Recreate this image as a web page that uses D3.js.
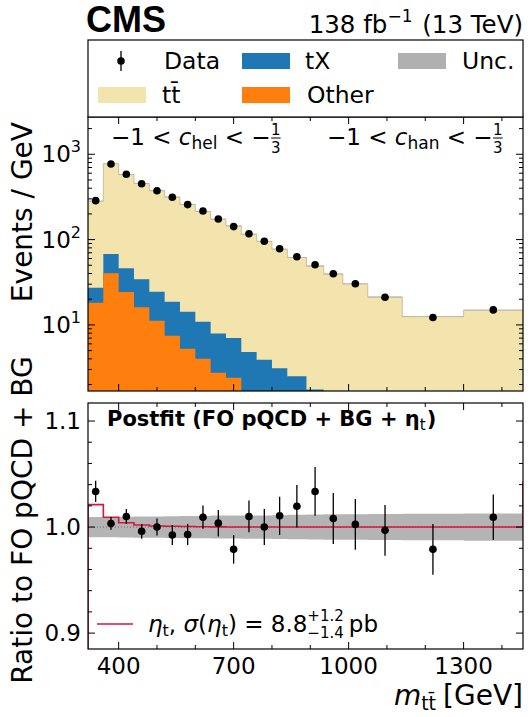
<!DOCTYPE html>
<html><head><meta charset="utf-8">
<script src="https://cdn.jsdelivr.net/npm/d3@7"></script>
<style>
body{margin:0;background:#fff}
svg{display:block}
text{font-family:"DejaVu Sans",sans-serif;white-space:pre}
</style>
</head><body>
<svg id="c" width="532" height="717"></svg>
<script>
// ---------------- data ----------------
const binEdges = [320,360,400,440,480,520,560,600,640,680,720,760,800,840,890,935,985,1050,1140,1300,1455];
const dataVals  = [286,770,584,452,374,313,257,216,174,142,117,95.5,78,63,50.8,39.8,30.4,21.1,12.2,15.0];
const ttVals    = [255.3,706.7,534.4,420.4,349.9,296.9,244.6,203.2,165.4,138.0,111.0,91.6,74.1,59.3,47.3,38.1,29.2,20.4,12.1,14.55];
const tXVals    = [9.1,27.5,21.8,18.2,13.3,11.2,9.0,6.9,5.2,4.6,3.5,2.9,2.3,1.9,1.3,1.0,0.8,0.6,0.3,0.25];
const otherVals = [18.2,40.3,24.3,16.1,11.2,7.47,5.26,4.02,2.75,2.41,1.3,1.0,0.8,0.6,0.45,0.4,0.3,0.2,0.1,0.1];
const ratioVals = [1.0336,1.0034,1.010,0.996,1.000,0.9925,0.993,1.0093,1.0037,0.979,1.010,1.000,1.0106,1.0196,1.0336,1.0081,1.0025,0.9969,0.979,1.0093];
const ratioErr  = [0.010,0.006,0.007,0.007,0.008,0.0095,0.010,0.011,0.0125,0.0135,0.015,0.017,0.018,0.020,0.023,0.024,0.024,0.024,0.024,0.0215];
const etaRatio  = [1.0212,1.0093,1.004,1.002,1.001,1.0008,1.0005,1.0003,1.0002,1.0001,1.0,1.0,1.0,1.0,1.0,1.0,1.0,1.0,1.0,1.0];
const uncRel    = [0.0095,0.0095,0.0098,0.0100,0.0100,0.0102,0.0105,0.0105,0.0108,0.0108,0.0110,0.0110,0.0112,0.0115,0.0118,0.0120,0.0120,0.0122,0.0125,0.0128];
const etaNextSlice = 1.043;
const xTicksMajor = [400,700,1000,1300];
const xTicksMinor = [500,600,800,900,1100,1200,1400];
const yTopMajor = [10,100,1000];
const yTopLabels = ["1","2","3"];
const yBotMajor = [0.9,1.0,1.1];
const yBotLabels = ["0.9","1.0","1.1"];

// ---------------- colors ----------------
const C_TT = "#f2e4ac", C_TX = "#1f77b4", C_OTH = "#ff7f0e", C_UNC = "#b0b0b0", C_RED = "#dc143c";

// ---------------- layout ----------------
const L = 88, R = 523;
const T1 = 117, B1 = 391, T2 = 403, B2 = 649;
const svg = d3.select("#c");

const x = d3.scaleLinear().domain([320,1455]).range([L,R]);
const yTop = d3.scaleLog().domain([1.68,2735]).range([B1,T1]);
const yBot = d3.scaleLinear().domain([0.885,1.117]).range([B2,T2]);

const nb = dataVals.length;
const bins = d3.range(nb).map(i => ({
  x0: binEdges[i], x1: binEdges[i+1], c: (binEdges[i]+binEdges[i+1])/2,
  oth: otherVals[i], tx: otherVals[i]+tXVals[i], tot: otherVals[i]+tXVals[i]+ttVals[i],
  d: dataVals[i], r: ratioVals[i], re: ratioErr[i], eta: etaRatio[i], u: uncRel[i]
}));

const defs = svg.append("defs");
defs.append("clipPath").attr("id","cp1").append("rect").attr("x",L).attr("y",T1).attr("width",R-L).attr("height",B1-T1);
defs.append("clipPath").attr("id","cp2").append("rect").attr("x",L).attr("y",T2).attr("width",R-L).attr("height",B2-T2);

// ---------------- top panel ----------------
const g1 = svg.append("g").attr("clip-path","url(#cp1)");
function stepArea(key0) {
  return d3.area()
    .x(p => x(p.x))
    .y0(p => key0 ? yTop(p.v0) : B1 + 5)
    .y1(p => yTop(p.v1));
}
function stepPts(f0, f1) {
  const pts = [];
  bins.forEach(b => {
    pts.push({x:b.x0, v0:f0(b), v1:f1(b)});
    pts.push({x:b.x1, v0:f0(b), v1:f1(b)});
  });
  return pts;
}
const clampLow = v => Math.max(v, 0.5);
g1.append("path").attr("d", stepArea(false)(stepPts(b=>1, b=>b.tot))).attr("fill",C_TT);
g1.append("path").attr("d", stepArea(false)(stepPts(b=>1, b=>clampLow(b.tx)))).attr("fill",C_TX);
g1.append("path").attr("d", stepArea(false)(stepPts(b=>1, b=>clampLow(b.oth)))).attr("fill",C_OTH);
g1.append("path").attr("d", stepArea(true)(stepPts(b=>b.tot*(1-b.u), b=>b.tot*(1+b.u)))).attr("fill",C_UNC).attr("opacity",0.9);
g1.append("path").attr("d", d3.line().x(p=>x(p.x)).y(p=>yTop(p.v1))(stepPts(b=>0,b=>b.tot))).attr("fill","none").attr("stroke","#bdb49a").attr("stroke-width",0.8);

const gd = svg.append("g");
bins.forEach(b => {
  const rel = b.re / b.r;
  gd.append("line").attr("x1",x(b.c)).attr("x2",x(b.c))
    .attr("y1",yTop(b.d*(1-rel))).attr("y2",yTop(b.d*(1+rel))).attr("stroke","#000").attr("stroke-width",1.3);
  gd.append("circle").attr("cx",x(b.c)).attr("cy",yTop(b.d)).attr("r",3.8).attr("fill","#000");
});

// ---------------- bottom panel ----------------
const g2 = svg.append("g").attr("clip-path","url(#cp2)");
g2.append("path").attr("d", d3.area().x(p=>x(p.x)).y0(p=>yBot(1-p.v0)).y1(p=>yBot(1+p.v1))(stepPts(b=>b.u,b=>b.u))).attr("fill",C_UNC).attr("opacity",0.95);
g2.append("line").attr("x1",L).attr("x2",R).attr("y1",yBot(1)).attr("y2",yBot(1)).attr("stroke","#555").attr("stroke-width",0.8).attr("stroke-dasharray","1,2");
const etaPts = [[x(binEdges[0]), B2+10]];
bins.forEach(b => { etaPts.push([x(b.x0), yBot(b.eta)]); etaPts.push([x(b.x1), yBot(b.eta)]); });
etaPts.push([x(binEdges[nb]), yBot(etaNextSlice)]);
g2.append("path").attr("d", d3.line()(etaPts)).attr("fill","none").attr("stroke",C_RED).attr("stroke-width",1.6);
bins.forEach(b => {
  g2.append("line").attr("x1",x(b.c)).attr("x2",x(b.c)).attr("y1",yBot(b.r-b.re)).attr("y2",yBot(b.r+b.re)).attr("stroke","#000").attr("stroke-width",1.3);
  g2.append("circle").attr("cx",x(b.c)).attr("cy",yBot(b.r)).attr("r",3.8).attr("fill","#000");
});

// ---------------- axes / ticks ----------------
function frame(T,B) {
  svg.append("rect").attr("x",L).attr("y",T).attr("width",R-L).attr("height",B-T).attr("fill","none").attr("stroke","#000").attr("stroke-width",1.2);
}
function xticks(T,B) {
  const ga = svg.append("g");
  xTicksMajor.forEach(v => {
    ga.append("line").attr("x1",x(v)).attr("x2",x(v)).attr("y1",B).attr("y2",B-7);
    ga.append("line").attr("x1",x(v)).attr("x2",x(v)).attr("y1",T).attr("y2",T+7);
  });
  xTicksMinor.forEach(v => {
    ga.append("line").attr("x1",x(v)).attr("x2",x(v)).attr("y1",B).attr("y2",B-4);
    ga.append("line").attr("x1",x(v)).attr("x2",x(v)).attr("y1",T).attr("y2",T+4);
  });
  ga.selectAll("line").attr("stroke","#000").attr("stroke-width",1);
}
function yticks(scale, major, minor) {
  const ga = svg.append("g");
  major.forEach(v => {
    ga.append("line").attr("x1",L).attr("x2",L+7).attr("y1",scale(v)).attr("y2",scale(v));
    ga.append("line").attr("x1",R).attr("x2",R-7).attr("y1",scale(v)).attr("y2",scale(v));
  });
  minor.forEach(v => {
    ga.append("line").attr("x1",L).attr("x2",L+4).attr("y1",scale(v)).attr("y2",scale(v));
    ga.append("line").attr("x1",R).attr("x2",R-4).attr("y1",scale(v)).attr("y2",scale(v));
  });
  ga.selectAll("line").attr("stroke","#000").attr("stroke-width",1);
}
const topMinor = [];
[1,10,100,1000].forEach(dcd => d3.range(2,10).forEach(k => { const v=k*dcd; if (v>1.68 && v<2735) topMinor.push(v); }));
const botMinor = d3.range(0.88,1.12,0.02).filter(v => v>0.886 && v<1.116 && yBotMajor.every(m=>Math.abs(m-v)>0.005));

frame(T1,B1); frame(T2,B2);
xticks(T1,B1); xticks(T2,B2);
yticks(yTop, yTopMajor, topMinor);
yticks(yBot, yBotMajor, botMinor);

yTopMajor.forEach((v,i) => {
  const t = svg.append("text").attr("x",81).attr("y",yTop(v)+8).attr("text-anchor","end").attr("font-size",23);
  t.append("tspan").text("10");
  t.append("tspan").attr("font-size",16).attr("dy",-10).text(yTopLabels[i]);
});
yBotMajor.forEach((v,i) => {
  svg.append("text").attr("x",81).attr("y",yBot(v)+8).attr("text-anchor","end").attr("font-size",23).text(yBotLabels[i]);
});
xTicksMajor.forEach(v => {
  svg.append("text").attr("x",x(v)).attr("y",674).attr("text-anchor","middle").attr("font-size",23).text(String(v));
});

// ---------------- math-ish text helper ----------------
function mtext(x0, y0, parts, anchor, baseSize) {
  const grp = svg.append("g");
  let cx = 0;
  parts.forEach(p => {
    if (p.frac) {
      const fs = p.size;
      const n = grp.append("text").attr("font-size",fs).attr("text-anchor","middle").text(p.frac[0]);
      const d = grp.append("text").attr("font-size",fs).attr("text-anchor","middle").text(p.frac[1]);
      const w = Math.max(n.node().getComputedTextLength(), d.node().getComputedTextLength()) + (p.pad||2);
      n.attr("x",cx+w/2).attr("y",p.ny);
      d.attr("x",cx+w/2).attr("y",p.dy);
      if (p.ly !== undefined) grp.append("line").attr("x1",cx+0.5).attr("x2",cx+w-0.5).attr("y1",p.ly).attr("y2",p.ly).attr("stroke","#000").attr("stroke-width",1);
      if (p.align === "left") { n.attr("text-anchor","start").attr("x",cx); d.attr("text-anchor","start").attr("x",cx); }
      cx += w + (p.after||0);
    } else {
      const t = grp.append("text").attr("x",cx).attr("y",p.dy||0).attr("font-size",p.size||baseSize).text(p.t);
      if (p.italic) t.attr("font-style","italic");
      if (p.bold) t.attr("font-weight","bold");
      cx += t.node().getComputedTextLength() + (p.after||0);
    }
  });
  const shift = anchor === "end" ? -cx : anchor === "middle" ? -cx/2 : 0;
  grp.attr("transform", `translate(${x0+shift},${y0})`);
  return grp;
}

svg.append("text").attr("x",86).attr("y",32).attr("font-size",36).attr("font-weight","bold").style("font-family","'Liberation Sans',Arial,sans-serif").text("CMS");
mtext(523, 33, [
  {t:"138 fb"}, {t:"\u22121", size:17, dy:-11, after:2}, {t:" (13 TeV)"}
], "end", 24.5);

svg.append("rect").attr("x",L).attr("y",40).attr("width",R-L).attr("height",T1-40).attr("fill","#fff").attr("stroke","#000").attr("stroke-width",1.2);
svg.append("line").attr("x1",121).attr("x2",121).attr("y1",51).attr("y2",71).attr("stroke","#000").attr("stroke-width",1.3);
svg.append("circle").attr("cx",121).attr("cy",61).attr("r",3.8).attr("fill","#000");
svg.append("text").attr("x",164).attr("y",69).attr("font-size",23.5).text("Data");
svg.append("rect").attr("x",242).attr("y",53).attr("width",48).attr("height",16).attr("fill",C_TX);
svg.append("text").attr("x",305).attr("y",69).attr("font-size",23.5).text("tX");
svg.append("rect").attr("x",398).attr("y",53).attr("width",48).attr("height",16).attr("fill",C_UNC);
svg.append("text").attr("x",462).attr("y",69).attr("font-size",23.5).text("Unc.");
svg.append("rect").attr("x",98).attr("y",87).attr("width",48).attr("height",16).attr("fill",C_TT);
svg.append("text").attr("x",162).attr("y",103).attr("font-size",23.5).text("tt\u0304");
svg.append("rect").attr("x",242).attr("y",87).attr("width",48).attr("height",16).attr("fill",C_OTH);
svg.append("text").attr("x",307).attr("y",103).attr("font-size",23.5).text("Other");

mtext(111, 145, [
  {t:"\u22121 < "}, {t:"c", italic:true}, {t:"hel", size:17, dy:4}, {t:" < \u2212"},
  {frac:["1","3"], size:15, ny:-10, dy:8, ly:-7, pad:1}
], "start", 23);
mtext(327, 145, [
  {t:"\u22121 < "}, {t:"c", italic:true}, {t:"han", size:17, dy:4}, {t:" < \u2212"},
  {frac:["1","3"], size:15, ny:-10, dy:8, ly:-7, pad:1}
], "start", 23);

mtext(107, 426, [
  {t:"Postfit (FO pQCD + BG + ", bold:true}, {t:"\u03b7", bold:true}, {t:"t", size:15, dy:4, after:1}, {t:")", bold:true}
], "start", 21);

svg.append("line").attr("x1",97).attr("x2",133).attr("y1",624).attr("y2",624).attr("stroke",C_RED).attr("stroke-width",1.6);
mtext(148, 632, [
  {t:"\u03b7", italic:true}, {t:"t", size:16, dy:4}, {t:", "}, {t:"\u03c3", italic:true}, {t:"("}, {t:"\u03b7", italic:true}, {t:"t", size:16, dy:4},
  {t:") = 8.8"},
  {frac:["+1.2","\u22121.4"], size:15, ny:-11, dy:6, pad:1, align:"left", after:4},
  {t:"pb"}
], "start", 23);

svg.append("text").attr("transform","translate(32,122) rotate(-90)").attr("text-anchor","end").attr("font-size",28).text("Events / GeV");
svg.append("text").attr("transform","translate(32,520) rotate(-90)").attr("text-anchor","middle").attr("font-size",28).text("Ratio to FO pQCD + BG");
mtext(523, 705, [
  {t:"m", italic:true}, {t:"tt\u0304", size:19, dy:5, after:7}, {t:"[GeV]"}
], "end", 28);
</script>
</body></html>
